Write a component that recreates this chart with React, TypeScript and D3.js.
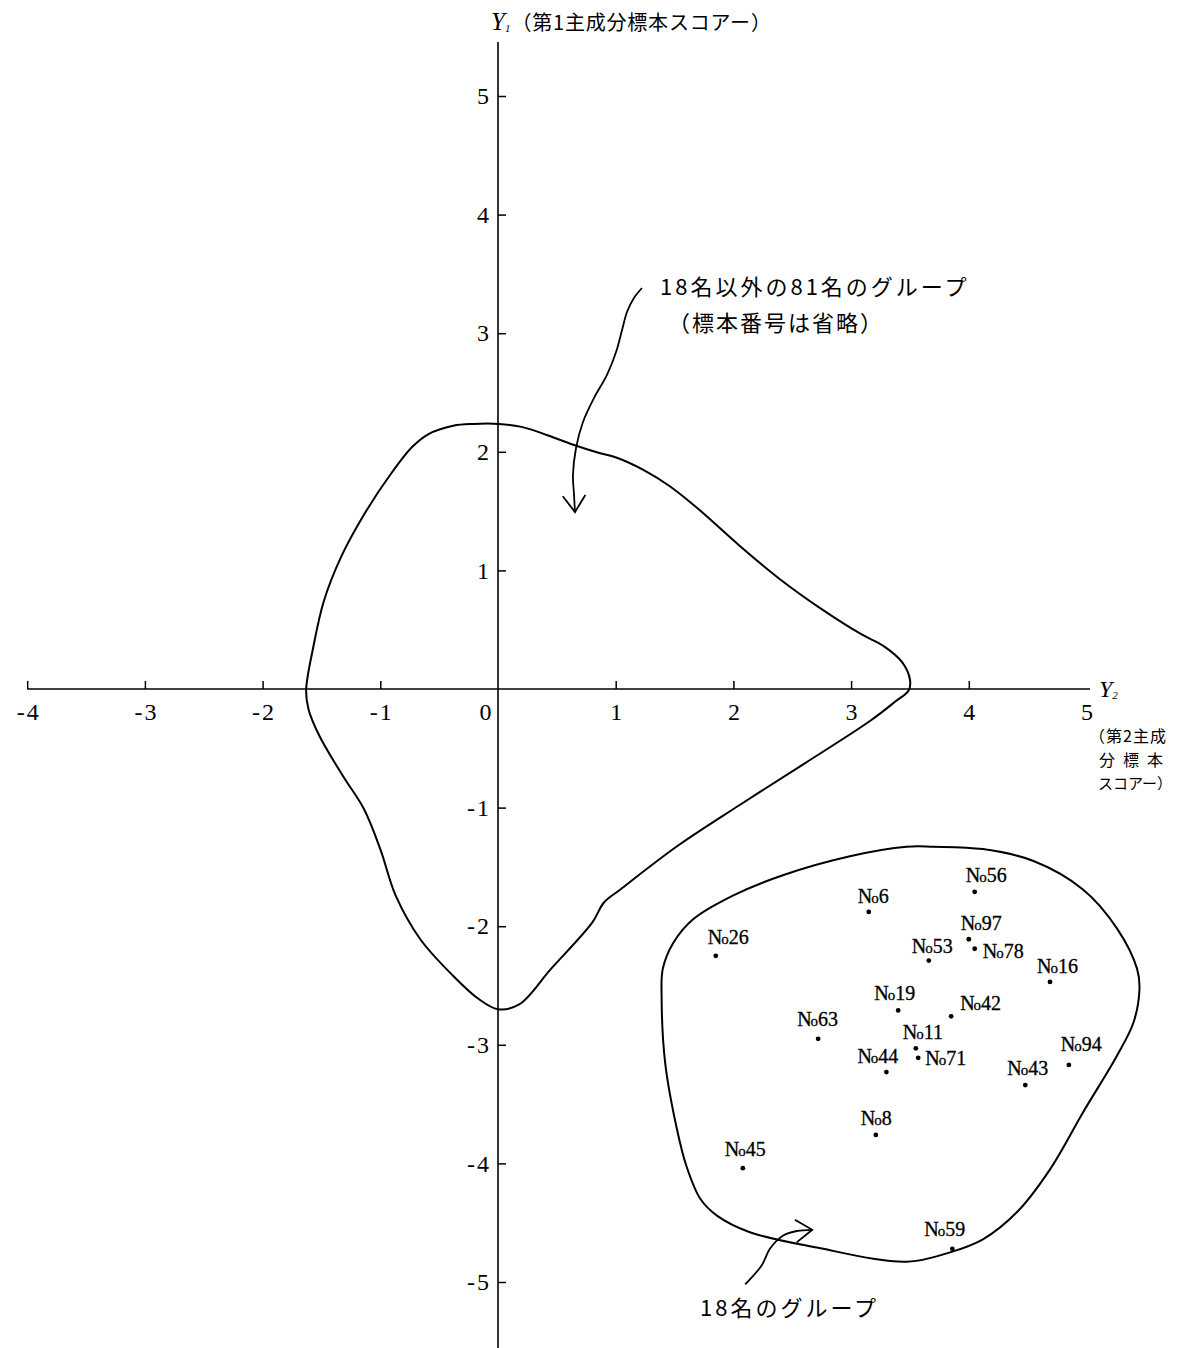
import React, { useEffect, useRef } from 'react';
import * as d3 from 'd3';

const W = 1181;
const H = 1348;

// axis ticks
const xTicks = [-4, -3, -2, -1, 0, 1, 2, 3, 4, 5];
const yTicks = [5, 4, 3, 2, 1, -1, -2, -3, -4, -5];

// 18 samples: Y2 (2nd PC score), Y1 (1st PC score)
const sampleIds = ['26', '6', '56', '97', '78', '53', '16', '19', '42', '63', '11', '71', '44', '94', '43', '8', '45', '59'];
const sampleY2 = [1.85, 3.15, 4.05, 4.0, 4.05, 3.66, 4.69, 3.4, 3.85, 2.72, 3.55, 3.57, 3.3, 4.85, 4.48, 3.21, 2.08, 3.86];
const sampleY1 = [-2.25, -1.88, -1.71, -2.11, -2.19, -2.29, -2.47, -2.71, -2.76, -2.95, -3.03, -3.11, -3.23, -3.17, -3.34, -3.76, -4.04, -4.72];

// outline of the other 81 samples (Y2, Y1)
const otherGroupY2 = [-1.63, -1.57, -1.48, -1.33, -1.12, -0.92, -0.73, -0.59, -0.38, -0.21, 0.01, 0.2, 0.42, 0.64, 0.86, 1.01, 1.25, 1.46, 1.7, 2.05, 2.39, 2.74, 3.09, 3.28, 3.43, 3.5, 3.49, 3.37, 3.16, 2.57, 2.05, 1.53, 1.04, 0.9, 0.8, 0.45, 0.18, 0.0, -0.17, -0.38, -0.66, -0.87, -1.0, -1.14, -1.32, -1.52, -1.61];
const otherGroupY1 = [-0.01, 0.35, 0.74, 1.12, 1.5, 1.8, 2.04, 2.15, 2.22, 2.235, 2.235, 2.21, 2.14, 2.06, 1.99, 1.95, 1.84, 1.71, 1.52, 1.21, 0.93, 0.68, 0.46, 0.36, 0.23, 0.08, -0.01, -0.11, -0.27, -0.65, -0.98, -1.32, -1.69, -1.8, -1.97, -2.36, -2.66, -2.7, -2.61, -2.42, -2.11, -1.74, -1.35, -1.01, -0.73, -0.39, -0.17];

// outline of the 18-sample group (Y2, Y1)
const groupY2 = [3.7, 4.12, 4.55, 4.97, 5.26, 5.43, 5.45, 5.4, 5.26, 4.97, 4.69, 4.41, 4.12, 3.84, 3.47, 2.71, 2.14, 1.86, 1.72, 1.6, 1.52, 1.42, 1.39, 1.4, 1.49, 1.66, 2.0, 2.42, 2.99, 3.47];
const groupY1 = [-1.33, -1.35, -1.45, -1.69, -2.02, -2.36, -2.53, -2.81, -3.09, -3.57, -4.05, -4.41, -4.64, -4.75, -4.83, -4.71, -4.58, -4.44, -4.3, -4.02, -3.71, -3.15, -2.59, -2.36, -2.14, -1.94, -1.74, -1.57, -1.41, -1.33];

// annotation arrows (Y2, Y1)
const arrowTopY2 = [1.223, 1.155, 1.096, 1.054, 1.003, 0.926, 0.816, 0.722, 0.663, 0.637, 0.646, 0.654];
const arrowTopY1 = [3.381, 3.297, 3.179, 3.027, 2.841, 2.648, 2.454, 2.251, 2.032, 1.804, 1.636, 1.492];
const arrowBottomY2 = [2.1, 2.24, 2.31, 2.42, 2.54, 2.67];
const arrowBottomY1 = [-5.02, -4.86, -4.72, -4.61, -4.57, -4.56];

// label placement relative to each point (px)
const labelDx = [-8, -11, -9, -8, 8, -17, -13, -24, 9, -21, -13, 7, -29, -8, -18, -15, -18, -28];
const labelDy = [-12, -9, -10, -9, 9, -8, -9, -10, -6, -13, -9, 7, -9, -14, -10, -10, -12, -13];

const SERIF = '"Liberation Serif", "DejaVu Serif", serif';
const JP = '"Noto Sans CJK JP", sans-serif';

const zip = (a: number[], b: number[]) => a.map((v, i) => [v, b[i]] as [number, number]);

const App = () => {
  const ref = useRef<SVGSVGElement>(null);

  useEffect(() => {
    const svg = d3.select(ref.current);
    svg.selectAll('*').remove();

    const x = d3.scaleLinear().domain([-4, 5]).range([27.2, 1086.5]);
    const y = d3.scaleLinear().domain([5, -5]).range([96, 1282]);

    const fmt = (d: number) => (d < 0 ? `-\u200a${-d}` : `${d}`);

    // x axis
    svg.append('line')
      .attr('x1', x(-4)).attr('x2', 1090)
      .attr('y1', y(0)).attr('y2', y(0))
      .attr('stroke', '#000').attr('stroke-width', 1.6);

    const xAxis = svg.append('g')
      .attr('transform', `translate(0,${y(0)})`)
      .call(d3.axisBottom(x).tickValues(xTicks).tickSize(-8).tickPadding(14).tickFormat(fmt as any));
    xAxis.select('.domain').remove();
    xAxis.selectAll('.tick line')
      .attr('stroke', '#000').attr('stroke-width', 1.5)
      .filter((d: any) => d === 0 || d === 5).remove();
    xAxis.selectAll('.tick text')
      .attr('font-family', SERIF).attr('font-size', 24).attr('fill', '#000')
      .filter((d: any) => d === 0).attr('dx', -13);

    // y axis
    svg.append('line')
      .attr('x1', x(0)).attr('x2', x(0))
      .attr('y1', 42).attr('y2', H)
      .attr('stroke', '#000').attr('stroke-width', 1.6);

    const yAxis = svg.append('g')
      .attr('transform', `translate(${x(0)},0)`)
      .call(d3.axisLeft(y).tickValues(yTicks).tickSize(-8).tickPadding(9).tickFormat(fmt as any));
    yAxis.select('.domain').remove();
    yAxis.selectAll('.tick line').attr('stroke', '#000').attr('stroke-width', 1.5);
    yAxis.selectAll('.tick text')
      .attr('font-family', SERIF).attr('font-size', 24).attr('fill', '#000');

    // axis titles
    const t1 = svg.append('text').attr('x', 491).attr('y', 30).attr('fill', '#000');
    t1.append('tspan').attr('font-family', SERIF).attr('font-style', 'italic').attr('font-size', 25).text('Y');
    t1.append('tspan').attr('font-family', SERIF).attr('font-style', 'italic').attr('font-size', 11).attr('dy', 2).text('1');
    t1.append('tspan').attr('font-family', JP).attr('font-size', 20).attr('letter-spacing', 0.8).attr('dy', -2).attr('dx', 1).text('（第1主成分標本スコアー）');

    const t2 = svg.append('text').attr('x', 1099).attr('y', 697).attr('fill', '#000');
    t2.append('tspan').attr('font-family', SERIF).attr('font-style', 'italic').attr('font-size', 24).text('Y');
    t2.append('tspan').attr('font-family', SERIF).attr('font-style', 'italic').attr('font-size', 11).attr('dy', 2).text('2');

    const sub = svg.append('g').attr('font-family', JP).attr('fill', '#000').attr('text-anchor', 'end');
    sub.append('text').attr('x', 1167).attr('y', 742).attr('font-size', 16).attr('letter-spacing', 1).text('（第2主成');
    sub.append('text').attr('x', 1171).attr('y', 765.5).attr('font-size', 16).attr('letter-spacing', 8).text('分標本');
    sub.append('text').attr('x', 1172).attr('y', 789).attr('font-size', 15).text('スコアー）');

    // group outlines
    const closed = d3.line<[number, number]>()
      .x(d => x(d[0])).y(d => y(d[1]))
      .curve(d3.curveCatmullRomClosed.alpha(0.5));

    svg.append('path')
      .attr('d', closed(zip(otherGroupY2, otherGroupY1)))
      .attr('fill', 'none').attr('stroke', '#000').attr('stroke-width', 2);

    svg.append('path')
      .attr('d', closed(zip(groupY2, groupY1)))
      .attr('fill', 'none').attr('stroke', '#000').attr('stroke-width', 2);

    // annotation arrows
    const open = d3.line<[number, number]>()
      .x(d => x(d[0])).y(d => y(d[1]))
      .curve(d3.curveCatmullRom.alpha(0.5));
    const straight = d3.line<[number, number]>().x(d => d[0]).y(d => d[1]);

    const drawArrow = (pts: [number, number][]) => {
      svg.append('path').attr('d', open(pts))
        .attr('fill', 'none').attr('stroke', '#000').attr('stroke-width', 1.8);
      const [ax, ay] = pts[pts.length - 1];
      const [bx, by] = pts[pts.length - 2];
      const tx = x(ax), ty = y(ay);
      const ang = Math.atan2(ty - y(by), tx - x(bx));
      const len = 20, spread = 0.6;
      svg.append('path')
        .attr('d', straight([
          [tx - len * Math.cos(ang - spread), ty - len * Math.sin(ang - spread)],
          [tx, ty],
          [tx - len * Math.cos(ang + spread), ty - len * Math.sin(ang + spread)],
        ]))
        .attr('fill', 'none').attr('stroke', '#000').attr('stroke-width', 1.8);
    };
    drawArrow(zip(arrowTopY2, arrowTopY1));
    drawArrow(zip(arrowBottomY2, arrowBottomY1));

    // annotations
    const notes = svg.append('g').attr('font-family', JP).attr('fill', '#000').attr('font-size', 22);
    notes.append('text').attr('x', 660).attr('y', 295).attr('letter-spacing', 3).text('18名以外の81名のグループ');
    notes.append('text').attr('x', 668).attr('y', 331).attr('letter-spacing', 2).text('（標本番号は省略）');
    notes.append('text').attr('x', 700).attr('y', 1316).attr('letter-spacing', 3).text('18名のグループ');

    // sample points
    const samples = sampleIds.map((id, i) => ({ id, y2: sampleY2[i], y1: sampleY1[i], dx: labelDx[i], dy: labelDy[i] }));

    svg.append('g').selectAll('circle')
      .data(samples)
      .enter().append('circle')
      .attr('cx', d => x(d.y2))
      .attr('cy', d => y(d.y1))
      .attr('r', 2.4)
      .attr('fill', '#000');

    const labels = svg.append('g').selectAll('text')
      .data(samples)
      .enter().append('text')
      .attr('x', d => x(d.y2) + d.dx)
      .attr('y', d => y(d.y1) + d.dy)
      .attr('font-family', SERIF)
      .attr('font-size', 20)
      .attr('stroke', '#000')
      .attr('stroke-width', 0.3)
      .attr('fill', '#000');
    labels.append('tspan').text('N');
    labels.append('tspan').attr('font-size', 15).attr('dx', -1).text('o');
    labels.append('tspan').text(d => d.id);
  }, []);

  return (
    <svg
      ref={ref}
      width={W}
      height={H}
      style={{ position: 'absolute', left: 0, top: 0, background: '#fff' }}
    />
  );
};

export default App;
